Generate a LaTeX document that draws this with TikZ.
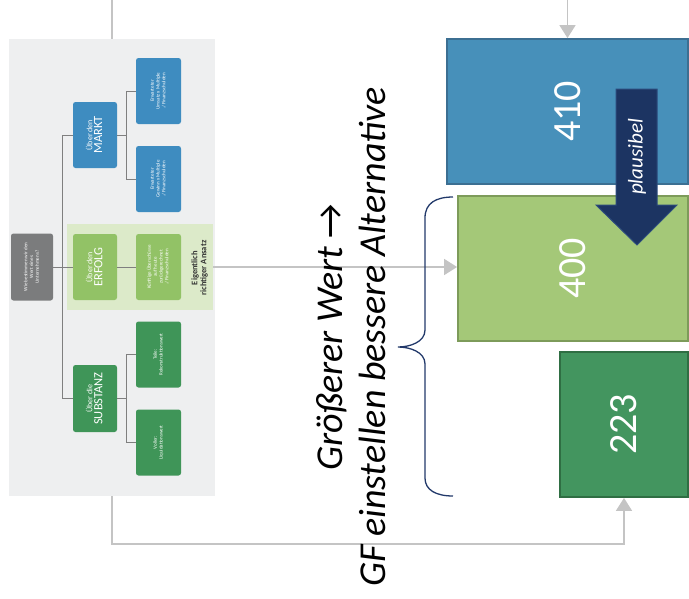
\documentclass[tikz,border=0pt]{standalone}
\usepackage{fontspec}
\setmainfont{Carlito}
\usetikzlibrary{arrows.meta}
\definecolor{panelbg}{HTML}{EEEFF0}
\definecolor{rootgray}{HTML}{7B7C7D}
\definecolor{mblue}{HTML}{3E8CC0}
\definecolor{bandgreen}{HTML}{DCEAC9}
\definecolor{egreen}{HTML}{92C266}
\definecolor{sgreen}{HTML}{3F9558}
\definecolor{treeline}{HTML}{7F7F7F}
\definecolor{conncol}{HTML}{C4C4C4}
\definecolor{bluebox}{HTML}{4790BA}
\definecolor{blueboxb}{HTML}{3C6F92}
\definecolor{lgbox}{HTML}{A4C878}
\definecolor{lgboxb}{HTML}{7D9B5A}
\definecolor{dgbox}{HTML}{43955F}
\definecolor{dgboxb}{HTML}{2F6E43}
\definecolor{navy}{HTML}{1C3462}
\definecolor{navyb}{HTML}{2C4B7C}
\definecolor{bracecol}{HTML}{22396A}
\newcommand\rt[1]{\rotatebox{90}{\begin{tabular}{@{}c@{}}#1\end{tabular}}}
\tikzset{
  treebox/.style={rounded corners=2.5pt, inner sep=0pt, text=white, font=\fontsize{5}{5.8}\selectfont},
  rootbox/.style={treebox, fill=rootgray, minimum width=42pt, minimum height=67pt},
  mainbox/.style={treebox, minimum width=44pt, minimum height=66pt},
  childbox/.style={treebox, minimum width=45pt, minimum height=66pt},
  treeconn/.style={draw=treeline, line width=0.9pt},
  conn/.style={draw=conncol, line width=1.6pt},
  connarrow/.style={conn, -{Triangle[length=13pt,width=16pt]}},
  bigbox/.style={line width=1.8pt, inner sep=0pt, text=white, font=\fontsize{40}{40}\selectfont},
}
\begin{document}
\begin{tikzpicture}[x=1pt,y=-1pt]
\useasboundingbox (0,0) rectangle (689,598);
% left panel
\node[fill=panelbg, minimum width=206pt, minimum height=457pt, inner sep=0pt] (panel) at (112,267.5) {};
\node[fill=bandgreen, minimum width=146pt, minimum height=86pt, inner sep=0pt] (band) at (140,267) {};
\node[rootbox] (root) at (32,267) {\rt{Wie bestimmen wir den\\Wert eines\\Unternehmens?}};
\node[mainbox, fill=mblue] (markt) at (95,135) {\rt{{\fontsize{8}{9}\selectfont Über den}\\{\fontsize{12.5}{12.5}\selectfont MARKT}}};
\node[mainbox, fill=egreen] (erfolg) at (95,267) {\rt{{\fontsize{8}{9}\selectfont Über den}\\{\fontsize{12.5}{12.5}\selectfont ERFOLG}}};
\node[mainbox, fill=sgreen, minimum height=67pt] (substanz) at (95,398.5) {\rt{{\fontsize{8}{9}\selectfont Über die}\\{\fontsize{12.5}{12.5}\selectfont SUBSTANZ}}};
\node[childbox, fill=mblue] (mc1) at (158.5,91) {\rt{Erwarteter\\Umsatz x Multiple\\./ Finanzschulden}};
\node[childbox, fill=mblue] (mc2) at (158.5,179) {\rt{Erwarteter\\Gewinn x Multiple\\./ Finanzschulden}};
\node[childbox, fill=egreen] (ec) at (158.5,267) {\rt{Künftige Überschüsse\\auf heute\\zurückgerechnet\\./ Finanzschulden}};
\node[childbox, fill=sgreen] (sc1) at (158.5,354.5) {\rt{Teile:\\Rekonstruktionswert}};
\node[childbox, fill=sgreen] (sc2) at (158.5,442.5) {\rt{Voller:\\Liquidationswert}};
\node[inner sep=0pt, text=black!80, font=\bfseries\fontsize{8.5}{9}\selectfont] (eig) at (200,268) {\rt{Eigentlich\\richtiger Ansatz}};
% tree lines
\draw[treeconn] (markt.west) -- ++(-10,0) |- (substanz.west);
\draw[treeconn] (root.east) -- (erfolg.west);
\draw[treeconn] (mc1.west) -- ++(-9,0) |- (mc2.west);
\draw[treeconn] (markt.east) -- ++(10,0);
\draw[treeconn] (sc1.west) -- ++(-9,0) |- (sc2.west);
\draw[treeconn] (substanz.east) -- ++(10,0);
\draw[treeconn] (erfolg.east) -- (ec.west);
% right boxes
\node[bigbox, fill=bluebox, draw=blueboxb, minimum width=241pt, minimum height=145pt] (b410) at (567.5,111.5) {\rotatebox{90}{410}};
\node[bigbox, fill=lgbox, draw=lgboxb, minimum width=230pt, minimum height=145pt] (b400) at (573,268.5) {\rotatebox{90}{400}};
\node[bigbox, fill=dgbox, draw=dgboxb, minimum width=128pt, minimum height=145pt] (b223) at (624,424.5) {\rotatebox{90}{223}};
% connectors
\coordinate (top1) at (112,0);
\coordinate (top2) at (567.5,0);
\draw[conn] (top1) -- (panel.north);
\draw[connarrow] (top2) -- (b410.north);
\draw[connarrow] (band.east) -- (band.east -| b400.west);
\draw[connarrow] (panel.south) -- ++(0,48) -| (b223.south);
% plausibel arrow
\draw[fill=navy, draw=navyb, line width=1pt] (616,89) -- (657,89) -- (657,205) -- (677,205) -- (637,245) -- (596,205) -- (616,205) -- cycle;
\node[text=white, inner sep=0pt, font=\itshape\fontsize{21}{21}\selectfont] (pl) at (637,157) {\rotatebox{90}{plausibel}};
% brace
\draw[bracecol, line width=1.3pt] (453,197) .. controls (436,197) and (425,203) .. (425,218) -- (425,330) .. controls (425,342) and (410,347) .. (398,347) .. controls (410,347) and (425,352) .. (425,364) -- (425,478) .. controls (425,490) and (436,496) .. (453,496);
% text
\node[inner sep=0pt, font=\itshape\fontsize{38}{43}\selectfont] (txt) at (355,337) {\rt{Größerer Wert {\upshape →}\\GF einstellen bessere Alternative}};
\end{tikzpicture}
\end{document}
